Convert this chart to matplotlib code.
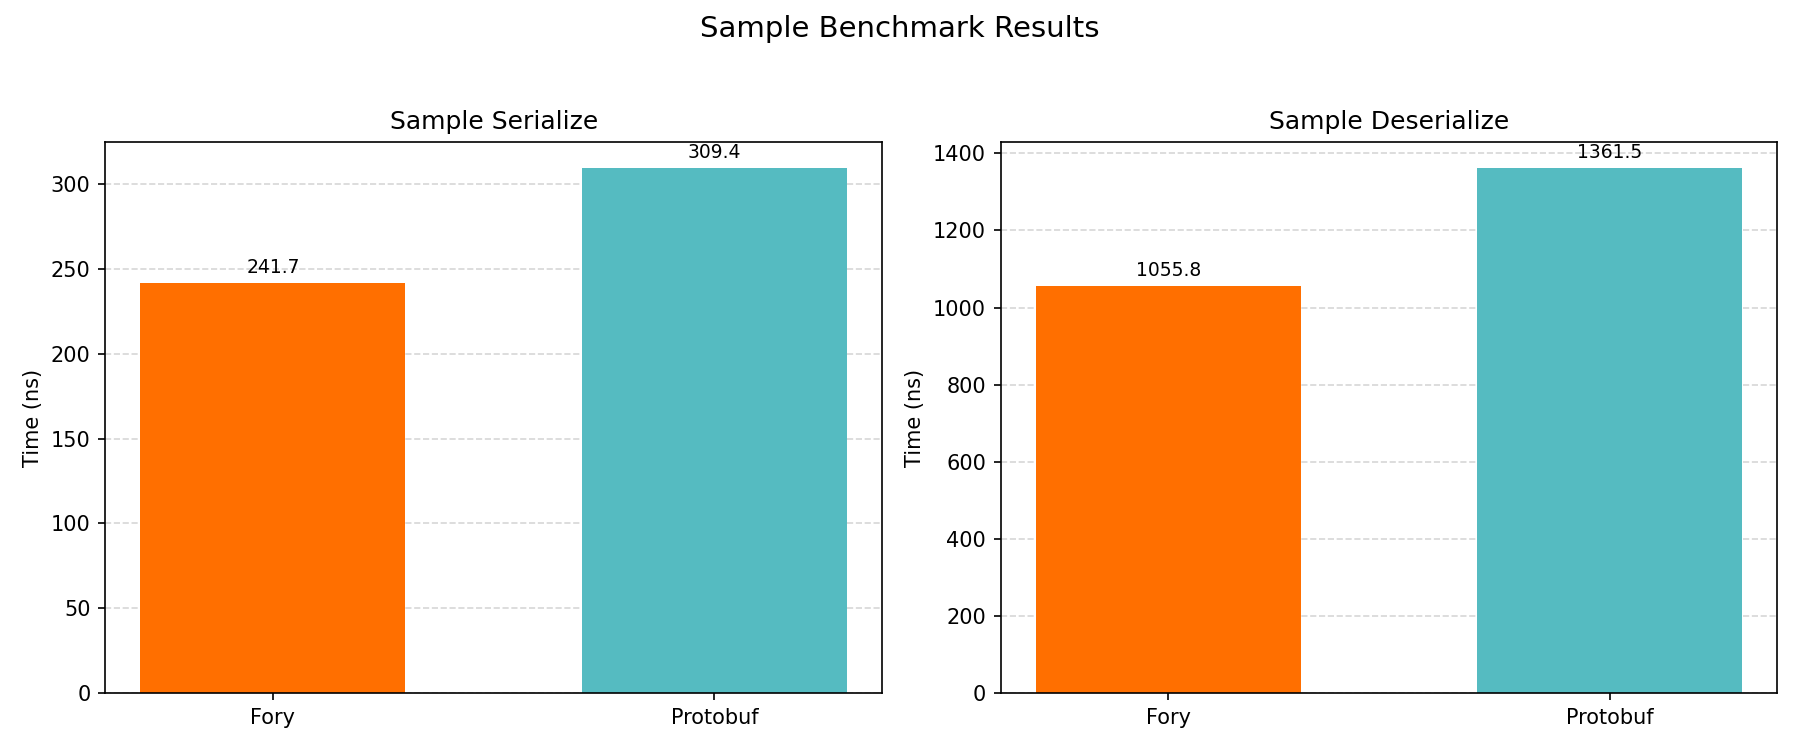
import matplotlib.pyplot as plt

libs = ["Fory", "Protobuf"]
serialize_ns = [241.7, 309.4]
deserialize_ns = [1055.8, 1361.5]
colors = ["#FF6F00", "#55BBC1"]

fig, axes = plt.subplots(1, 2, figsize=(12, 5), dpi=150)

for ax, title, vals in zip(axes, ["Sample Serialize", "Sample Deserialize"],
                           [serialize_ns, deserialize_ns]):
    bars = ax.bar(libs, vals, color=colors, width=0.6)
    ax.set_title(title)
    ax.set_ylabel("Time (ns)")
    ax.grid(axis="y", linestyle="--", alpha=0.5)
    ax.set_axisbelow(True)
    for b, v in zip(bars, vals):
        ax.annotate(f"{v:.1f}", xy=(b.get_x() + b.get_width() / 2, v),
                    xytext=(0, 3), textcoords="offset points",
                    ha="center", va="bottom", fontsize=9)

fig.suptitle("Sample Benchmark Results", fontsize=14)
fig.tight_layout(rect=[0, 0, 1, 0.95])
fig.savefig("out.png")
